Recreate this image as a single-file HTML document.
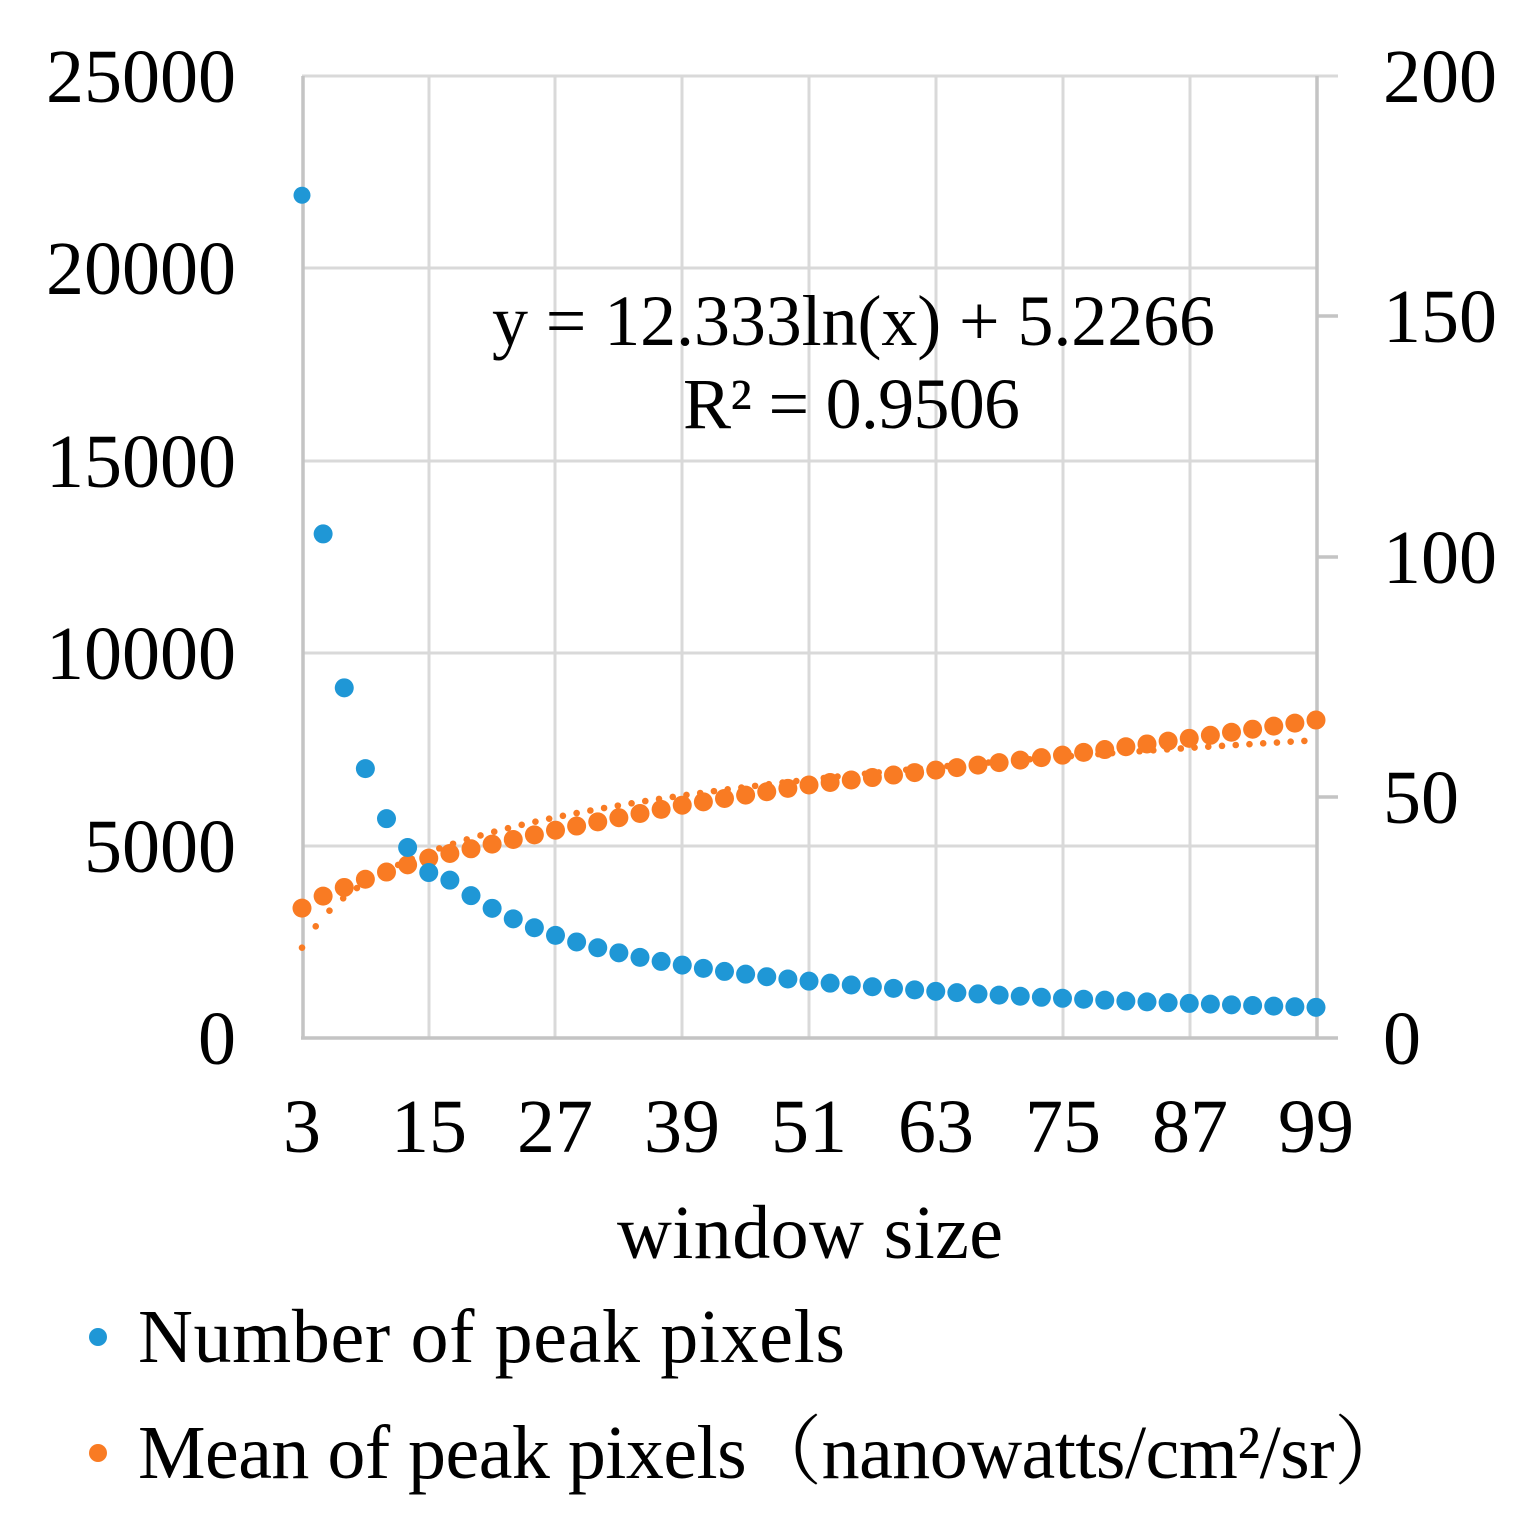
<!DOCTYPE html>
<html><head><meta charset="utf-8"><style>body{margin:0;background:#fff}svg{display:block}</style></head>
<body>
<svg id="s" width="1525" height="1522" xmlns="http://www.w3.org/2000/svg" font-family="Liberation Serif, serif">
<g stroke="#d9d9d9" stroke-width="3">
<line x1="302" y1="76" x2="1338" y2="76"/><line x1="302" y1="268" x2="1317" y2="268"/><line x1="302" y1="461" x2="1317" y2="461"/><line x1="302" y1="653" x2="1317" y2="653"/><line x1="302" y1="846" x2="1317" y2="846"/>
<line x1="429" y1="76" x2="429" y2="1038"/><line x1="555" y1="76" x2="555" y2="1038"/><line x1="682" y1="76" x2="682" y2="1038"/><line x1="809" y1="76" x2="809" y2="1038"/><line x1="936" y1="76" x2="936" y2="1038"/><line x1="1063" y1="76" x2="1063" y2="1038"/><line x1="1190" y1="76" x2="1190" y2="1038"/>
</g>
<g stroke="#c4c4c4" stroke-width="3.5">
<line x1="303" y1="76" x2="303" y2="1039"/><line x1="301" y1="1038" x2="1338" y2="1038"/><line x1="1317" y1="76" x2="1317" y2="1039"/>
<line x1="1317" y1="316" x2="1338" y2="316"/><line x1="1317" y1="557" x2="1338" y2="557"/><line x1="1317" y1="797" x2="1338" y2="797"/>
</g>
<g font-size="76" fill="#000" text-anchor="end">
<text x="236" y="102">25000</text><text x="236" y="294">20000</text><text x="236" y="487">15000</text><text x="236" y="679">10000</text><text x="236" y="872">5000</text><text x="236" y="1064">0</text>
</g>
<g font-size="76" fill="#000" text-anchor="start">
<text x="1383" y="102">200</text><text x="1383" y="342">150</text><text x="1383" y="583">100</text><text x="1383" y="823">50</text><text x="1383" y="1064">0</text>
</g>
<g font-size="76" fill="#000" text-anchor="middle">
<text x="302" y="1152">3</text><text x="429" y="1152">15</text><text x="555" y="1152">27</text><text x="682" y="1152">39</text><text x="809" y="1152">51</text><text x="936" y="1152">63</text><text x="1063" y="1152">75</text><text x="1190" y="1152">87</text><text x="1316" y="1152">99</text>
</g>
<text x="617" y="1258" font-size="76" textLength="386">window  size</text>
<text x="492" y="345" font-size="72" textLength="723">y = 12.333ln(x) + 5.2266</text>
<text x="683" y="428" font-size="72" textLength="337">R² = 0.9506</text>
<g id="pts"></g>
<circle cx="98" cy="1337" r="9" fill="#1f97d6"/>
<circle cx="98" cy="1453" r="9" fill="#f97b23"/>
<text x="138" y="1362" font-size="76" textLength="707">Number of peak pixels</text>
<text x="138" y="1478" font-size="76" textLength="1272">Mean of peak pixels<tspan font-family="Noto Serif CJK SC, serif">（</tspan>nanowatts/cm²/sr<tspan font-family="Noto Serif CJK SC, serif">）</tspan></text>
</svg>
<script>
var g=document.getElementById('pts'),h='';
function X(x){return 302+(x-3)*1014/96;}
function YL(v){return 1038-v*962/25000;}
function YR(v){return 1038-v*962/200;}
var ok=[[3,27],[5,29.5],[7,31.3],[9,33],[11,34.5],[13,36],[15,37.4],[27,43.2],[39,48.4],[51,52.6],[63,55.7],[75,58.8],[87,62.3],[99,66.1]];
function oi(x){for(var i=0;i<ok.length-1;i++){if(x<=ok[i+1][0]){var a=ok[i],b=ok[i+1];return a[1]+(b[1]-a[1])*(x-a[0])/(b[0]-a[0]);}}return 66.1;}
for(var t=3;t<=99;t+=1.3){var v=12.333*Math.log(t)+5.2266;h+='<circle cx="'+X(t)+'" cy="'+YR(v)+'" r="3.3" fill="#f97b23"/>';}
var bl={3:21900,5:13100,7:9100,9:7000,11:5700,13:4950,15:4300};
for(var x=3;x<=99;x+=2){var o=oi(x);h+='<circle cx="'+X(x)+'" cy="'+YR(o)+'" r="9.5" fill="#f97b23"/>';}
for(var x=3;x<=99;x+=2){var b=bl[x]||21900*Math.pow(x/3,-0.93)*0.94;h+='<circle cx="'+X(x)+'" cy="'+YL(b)+'" r="'+(x==3?8.5:9.5)+'" fill="#1f97d6"/>';}
g.innerHTML=h;
</script>
</body></html>
